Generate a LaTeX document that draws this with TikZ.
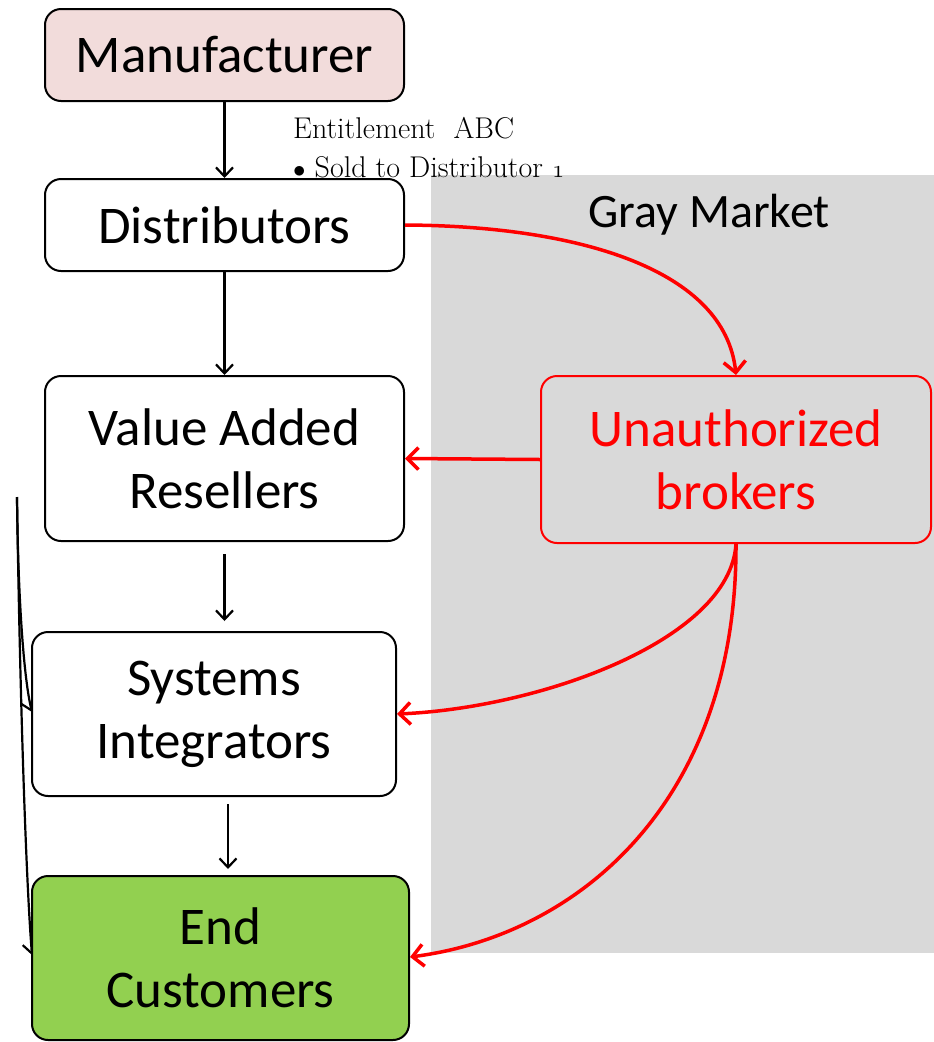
\documentclass[tikz,border=0pt]{standalone}
\usepackage{fontspec}
\newfontfamily\calfont{Carlito}
\usetikzlibrary{arrows.meta,calc}
\definecolor{pinkfill}{HTML}{F2DCDB}
\definecolor{greenfill}{HTML}{92D050}
\definecolor{grayzone}{HTML}{D9D9D9}
\definecolor{brokerred}{HTML}{FF0000}
\newcommand{\osone}{{\usefont{OML}{cmm}{m}{it}1}}
\tikzset{
  box/.style={draw=black, line width=2pt, rounded corners=16pt, align=center,
    font=\calfont\fontsize{53}{63}\selectfont, inner sep=0pt},
  redbox/.style={box, draw=brokerred, text=brokerred},
  blk/.style={draw=black, line width=2.2pt, -{Straight Barb[length=9pt,width=17pt,line width=2.2pt]}},
  redarr/.style={draw=brokerred, line width=3.5pt, -{Straight Barb[length=11pt,width=22pt,line width=3.5pt]}}
}
\begin{document}
\begin{tikzpicture}[x=1pt,y=-1pt]
\useasboundingbox (0,0) rectangle (934,1042);
\fill[grayzone] (431,175) rectangle (934,953);
\node[font=\calfont\fontsize{48}{55}\selectfont] (gm) at (709,215) {Gray Market};
\node[anchor=west, align=left, font=\fontsize{30}{39}\selectfont, inner sep=0pt] (ent) at (293,148)
  {Entitlement\ \ ABC\\$\bullet$ Sold to Distributor \osone};
% left curves (drawn before boxes)
\coordinate (ls) at (17,497);
\coordinate (siw) at (32,712);
\coordinate (ecw) at (32,955);
\draw[blk] (ls) .. controls (18,600) and (24,680) .. (siw);
\draw[blk] (ls) .. controls (20,700) and (26,880) .. (ecw);
% boxes
\node[box, fill=pinkfill, minimum width=359pt, minimum height=92pt] (man) at (224.5,55) {Manufacturer};
\node[box, fill=white, minimum width=359pt, minimum height=92pt] (dist) at (224.5,225) {Distributors};
\node[box, fill=white, minimum width=359pt, minimum height=165pt] (var) at (224.5,458.5) {Value Added\\Resellers};
\node[box, fill=white, minimum width=364pt, minimum height=164pt] (si) at (214,714) {Systems\\Integrators};
\node[box, fill=greenfill, minimum width=377pt, minimum height=164pt] (ec) at (220.5,958) {End\\Customers};
\node[redbox, fill=grayzone, minimum width=390pt, minimum height=167pt] (ub) at (736,459.5) {Unauthorized\\brokers};
% black arrows
\draw[blk] (man.south) -- (man.south |- dist.north);
\draw[blk] (dist.south) -- (dist.south |- var.north);
\draw[blk, shorten <=12pt, shorten >=10pt] (var.south) -- (var.south |- si.north);
\draw[blk, shorten <=7pt, shorten >=6pt] ($(si.south)+(14,0)$) -- ($(si.south |- ec.north)+(14,0)$);
% red arrows
\draw[redarr] (dist.east) .. controls (580,226) and (725,270) .. (ub.north);
\draw[redarr] (ub.west) -- (var.east);
\draw[redarr] (ub.south) .. controls (730,640) and (540,708) .. (si.east);
\draw[redarr] (ub.south) .. controls (737,800) and (580,935) .. ($(ec.east)+(0,-1)$);
\end{tikzpicture}
\end{document}
